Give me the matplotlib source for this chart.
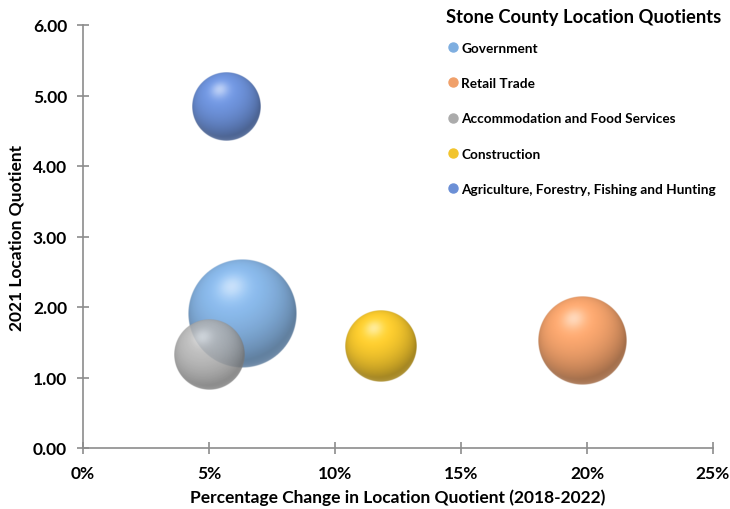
import numpy as np
import matplotlib
matplotlib.use("Agg")
import matplotlib.pyplot as plt
from matplotlib.lines import Line2D
from matplotlib.ticker import FuncFormatter

plt.rcParams["font.family"] = ["Lato", "DejaVu Sans"]

# data
industries = ["Government", "Retail Trade", "Accommodation and Food Services",
              "Construction", "Agriculture, Forestry, Fishing and Hunting"]
pct_change = [6.3, 19.8, 5.0, 11.8, 5.7]          # % change in LQ 2018-2022
lq_2021 = [1.90, 1.52, 1.32, 1.44, 4.84]
bubble_size = [1000, 665, 420, 430, 405]
colors = ["#7eaee0", "#f0a06a", "#ababab", "#f2c42c", "#6b8fd6"]
alphas = [0.95, 1.0, 0.85, 1.0, 1.0]

W, H, DPI = 730, 510, 100
fig = plt.figure(figsize=(W / DPI, H / DPI), dpi=DPI)
ax = fig.add_axes([83 / W, 1 - 449 / H, (713 - 83) / W, (449 - 26) / H])

ax.set_xlim(0, 25)
ax.set_ylim(0, 6)
ax.set_xticks(range(0, 26, 5))
ax.set_yticks(range(0, 7))
ax.xaxis.set_major_formatter(FuncFormatter(lambda v, _: f"{v:.0f}%"))
ax.yaxis.set_major_formatter(FuncFormatter(lambda v, _: f"{v:.2f}"))
for s in ("top", "right"):
    ax.spines[s].set_visible(False)
for s in ("left", "bottom"):
    ax.spines[s].set_color("#8c8c8c")
    ax.spines[s].set_linewidth(1.2)
ax.tick_params(direction="inout", length=9, width=1.2, color="#8c8c8c",
               labelsize=12.5, pad=7)
for lab in ax.get_xticklabels() + ax.get_yticklabels():
    lab.set_fontweight("bold")
ax.tick_params(axis="x", pad=8)

ax.set_xlabel("Percentage Change in Location Quotient (2018-2022)",
              fontsize=12.5, fontweight="bold", labelpad=5)
ax.set_ylabel("2021 Location Quotient", fontsize=12.5, fontweight="bold", labelpad=6)


def sphere(rgb, alpha, n=220):
    y, x = np.mgrid[1:-1:n * 1j, -1:1:n * 1j]
    r2 = x ** 2 + y ** 2
    z = np.sqrt(np.clip(1 - r2, 0, 1))
    L = np.array([-0.2, 0.5, 0.85])
    L = L / np.linalg.norm(L)
    diff = np.clip(x * L[0] + y * L[1] + z * L[2], 0, 1)
    spec = diff ** 30
    rim = np.clip(-y, 0, 1) * (1 - z) ** 3 * 0.3
    base = np.array(rgb)
    img = base[None, None, :] * (0.68 + 0.42 * diff[..., None])
    img = img + (1 - img) * (0.5 * spec + rim)[..., None]
    img = np.clip(img, 0, 1)
    edge = np.clip((1 - np.sqrt(r2)) * n / 2, 0, 1)
    return np.dstack([img, edge * alpha])


# pixel scale of the axes
p0 = ax.transData.transform((0, 0))
p1 = ax.transData.transform((1, 1))
px_x, px_y = p1 - p0
max_r = 0.128 * (449 - 26)
smax = max(bubble_size)

order = [0, 1, 3, 4, 2]
for i in order:
    r = max_r * np.sqrt(bubble_size[i] / smax)
    rx, ry = r / px_x, r / px_y
    cx, cy = pct_change[i], lq_2021[i]
    img = sphere(matplotlib.colors.to_rgb(colors[i]), alphas[i])
    ax.imshow(img, extent=[cx - rx, cx + rx, cy - ry, cy + ry],
              aspect="auto", interpolation="bilinear", zorder=3 + order.index(i))
ax.set_xlim(0, 25)
ax.set_ylim(0, 6)

fig.text(584 / W, 1 - 18 / H, "Stone County Location Quotients", fontsize=13.2,
         fontweight="bold", ha="center", va="center")

handles = [Line2D([], [], marker="o", linestyle="none", markersize=6.5,
                  markerfacecolor=c, markeredgecolor=c) for c in colors]
leg = fig.legend(handles, industries, loc="upper left", bbox_to_anchor=(436 / W, 1 - 33 / H),
                 frameon=False, prop={"size": 9.8, "weight": "bold"}, labelspacing=1.72,
                 handletextpad=0.05, handlelength=1.1, borderpad=0.2)

fig.savefig("out.png", dpi=DPI, facecolor="white")
